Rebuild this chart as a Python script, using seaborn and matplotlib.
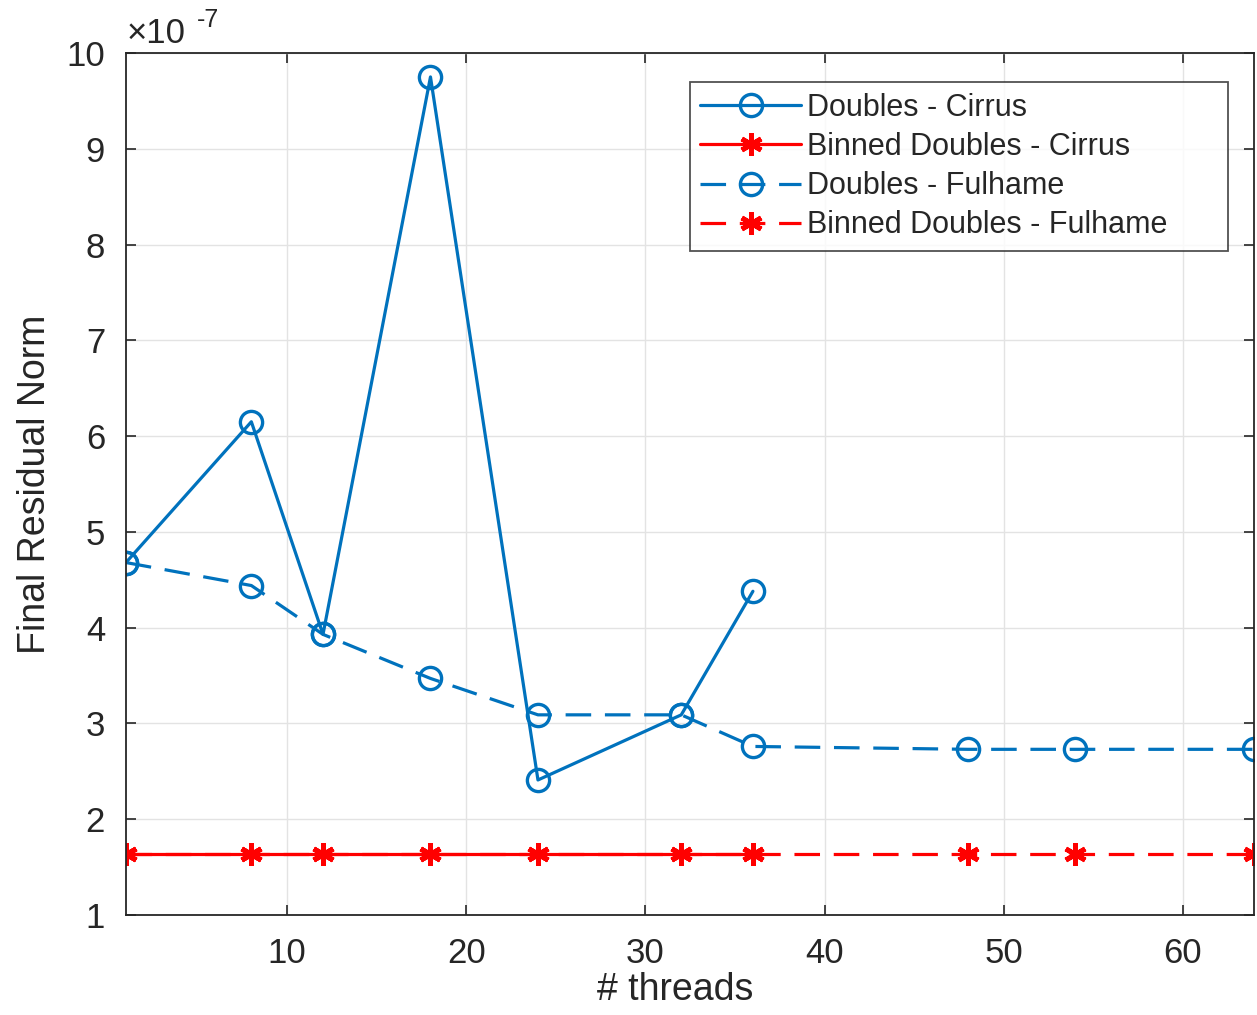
import numpy as np
import pandas as pd
import matplotlib.pyplot as plt
import seaborn as sns

# data (values in units of 1e-7)
threads_cirrus = [1, 8, 12, 18, 24, 32, 36]
threads_fulhame = [1, 8, 12, 18, 24, 32, 36, 48, 54, 64]
doubles_cirrus = [4.68, 6.15, 3.93, 9.75, 2.41, 3.09, 4.38]
binned_cirrus = [1.64, 1.64, 1.64, 1.64, 1.64, 1.64, 1.64]
doubles_fulhame = [4.68, 4.44, 3.93, 3.47, 3.09, 3.09, 2.76, 2.73, 2.73, 2.73]
binned_fulhame = [1.64, 1.64, 1.64, 1.64, 1.64, 1.64, 1.64, 1.64, 1.64, 1.64]

sns.set_style("ticks")
plt.rcParams['font.family'] = ['Liberation Sans', 'DejaVu Sans']

blue = "#0072BD"
red = "#FF0000"
ink = "#262626"
asterisk = (6, 2, 0)
dashed = (0, (8, 4.3))

series = [
    ("Doubles - Cirrus", threads_cirrus, doubles_cirrus, blue, "-", "o"),
    ("Binned Doubles - Cirrus", threads_cirrus, binned_cirrus, red, "-", asterisk),
    ("Doubles - Fulhame", threads_fulhame, doubles_fulhame, blue, dashed, "o"),
    ("Binned Doubles - Fulhame", threads_fulhame, binned_fulhame, red, dashed, asterisk),
]

fig = plt.figure(figsize=(12.57, 10.15), dpi=100)
ax = fig.add_axes([0.1002, 0.0985, 0.8978, 0.8493])

for name, xs, ys, col, ls, mk in series:
    df = pd.DataFrame({"threads": xs, "norm": ys})
    if mk == "o":
        mkw = dict(marker="o", markersize=16, markerfacecolor="none",
                   markeredgecolor=col, markeredgewidth=2.4)
    else:
        mkw = dict(marker=mk, markersize=16, markerfacecolor=col,
                   markeredgecolor=col, markeredgewidth=3.5)
    sns.lineplot(data=df, x="threads", y="norm", ax=ax, color=col,
                 linestyle=ls, linewidth=2.3, label=name, **mkw)

ax.set_xlim(1, 64)
ax.set_ylim(1, 10)
ax.set_xticks([10, 20, 30, 40, 50, 60])
ax.set_yticks(np.arange(1, 11))

# exponent label, MATLAB style
fig.text(127 / 1257, 1 - 43 / 1015, "\u00d710", fontsize=25, color=ink,
         ha="left", va="baseline")
fig.text(197 / 1257, 1 - 27 / 1015, "-7", fontsize=18, color=ink,
         ha="left", va="baseline")

ax.grid(True, color="#e3e3e3", linewidth=1.0)
ax.set_axisbelow(True)
ax.tick_params(direction="in", length=7, width=1.2, labelsize=25,
               colors=ink, top=True, right=True)
ax.tick_params(axis="x", pad=16)
ax.tick_params(axis="y", pad=15)
for sp in ax.spines.values():
    sp.set_visible(True)
    sp.set_color(ink)
    sp.set_linewidth(1.3)

ax.set_xlabel("# threads", fontsize=27, color=ink)
ax.set_ylabel("Final Residual Norm", fontsize=27, color=ink)
ax.xaxis.set_label_coords(0.487, -0.066)
ax.yaxis.set_label_coords(-0.065, 0.5)

leg = ax.legend(loc="upper left", bbox_to_anchor=(0.4996, 0.966, 0.4765, 0.0),
                mode="expand", fontsize=22,
                frameon=True, fancybox=False, edgecolor=ink,
                handlelength=3.3, handletextpad=0.2, borderpad=0.35,
                labelspacing=0.3, borderaxespad=0)
leg.get_frame().set_linewidth(1.3)

fig.savefig("out.png", dpi=100)
